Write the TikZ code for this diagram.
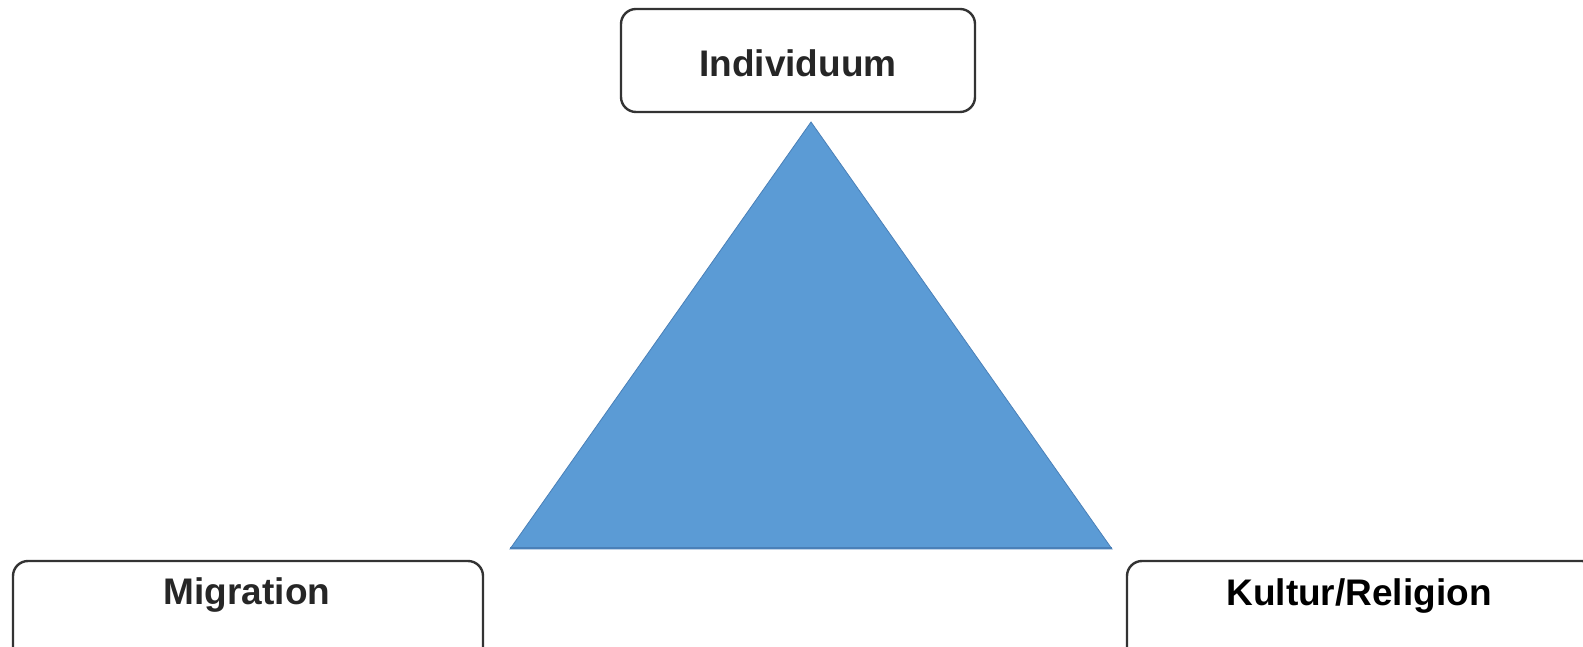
\documentclass[tikz,border=0pt]{standalone}
\usepackage{fontspec}
\setmainfont{Liberation Sans}
\usetikzlibrary{positioning}
\definecolor{txt}{HTML}{262626}
\definecolor{frame}{HTML}{333333}
\definecolor{tri}{HTML}{5B9BD5}
\definecolor{triedge}{HTML}{4A80B8}

\begin{document}
\begin{tikzpicture}[
  x=0.5pt, y=0.5pt,
  box/.style={draw=frame, line width=1.2pt, fill=white, rounded corners=7.5pt, minimum height=51.5pt, inner sep=0pt},
  lbl/.style={font=\fontsize{18.5}{22}\selectfont\bfseries, text=txt, inner sep=0pt},
]
\useasboundingbox (0,0) rectangle (1583,647);
\clip (0,0) rectangle (1583,647);

% triangle
\filldraw[fill=tri, draw=triedge, line width=0.4pt] (510,98) -- (811,525) -- (1112,98) -- cycle;
\draw[triedge, line width=1pt] (510,98.5) -- (1112,98.5);

% boxes
\node[box, lbl, minimum width=177pt, text height=16.5pt, text depth=0pt] (indiv) at (798,586.5) {Individuum};
\node[box, minimum width=235pt] (mig) at (248,34.5) {};
\node[box, minimum width=235pt] (kult) at (1362,34.5) {};

\node[lbl, anchor=base] (migtxt) at ([yshift=-22.5pt]mig.north -| 247,0) {Migration};
\node[lbl, anchor=base, text=black] (kulttxt) at ([yshift=-23pt]kult.north -| 1359,0) {Kultur/Religion};

\end{tikzpicture}
\end{document}
